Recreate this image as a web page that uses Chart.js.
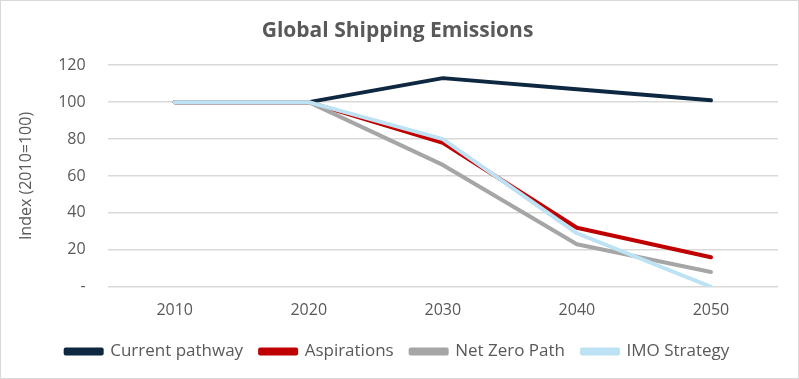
<!DOCTYPE html>
<html>
<head>
<meta charset="utf-8">
<script src="https://cdn.jsdelivr.net/npm/chart.js@4.4.1/dist/chart.umd.min.js"></script>
<style>
    html, body { margin: 0; padding: 0; background: #fff; }
    #wrap { width: 799px; height: 379px; box-sizing: border-box; border: 1px solid #d9d9d9; }
</style>
</head>
<body>
<div id="wrap"><canvas id="myChart" width="797" height="377"></canvas></div>
<script>
var years = ['2010', '2020', '2030', '2040', '2050'];
var currentPathway = [100, 100, 113, 107, 101];
var aspirations = [100, 100, 78, 32, 16];
var netZeroPath = [100, 100, 66, 23, 8];
var imoStrategy = [100, 100, 80, 29, 0];
var yTicks = [0, 20, 40, 60, 80, 100, 120];

var textColor = '#595959';
var fontFamily = "'Open Sans', sans-serif";

function line(label, data, color, order) {
    return {
        label: label,
        data: data,
        borderColor: color,
        backgroundColor: color,
        borderWidth: 4,
        borderCapStyle: 'round',
        borderJoinStyle: 'round',
        pointRadius: 0,
        tension: 0,
        order: order
    };
}

var ctx = document.getElementById('myChart').getContext('2d');
var myLineChart = new Chart(ctx, {
    type: 'line',
    data: {
        labels: years,
        datasets: [
            line('Current pathway', currentPathway, '#0e2841', 4),
            line('Aspirations', aspirations, '#c00000', 3),
            line('Net Zero Path', netZeroPath, '#a6a6a6', 2),
            line('IMO Strategy', imoStrategy, '#bde2f4', 1)
        ]
    },
    options: {
        responsive: false,
        animation: false,
        layout: { padding: { left: 16, right: 20, top: 4, bottom: 8 } },
        plugins: {
            title: {
                display: true,
                text: 'Global Shipping Emissions',
                color: textColor,
                font: { family: fontFamily, size: 21, weight: 'bold' },
                padding: { top: 13, bottom: 22 }
            },
            legend: {
                position: 'bottom',
                labels: {
                    color: textColor,
                    font: { family: fontFamily, size: 17 },
                    boxWidth: 36,
                    boxHeight: 4,
                    padding: 17,
                    sort: function (a, b) { return a.datasetIndex - b.datasetIndex; }
                }
            },
            tooltip: { enabled: false }
        },
        scales: {
            x: {
                offset: true,
                grid: { display: false },
                border: { display: false },
                ticks: { color: textColor, font: { family: fontFamily, size: 16 }, padding: 6 }
            },
            y: {
                min: 0,
                max: 120,
                afterBuildTicks: function (axis) {
                    axis.ticks = yTicks.map(function (v) { return { value: v }; });
                },
                grid: { color: '#d9d9d9', lineWidth: 1.5, drawTicks: false },
                border: { display: false },
                title: {
                    display: true,
                    text: 'Index (2010=100)',
                    color: textColor,
                    font: { family: fontFamily, size: 16 },
                    padding: { top: 0, bottom: 0 }
                },
                ticks: {
                    color: textColor,
                    font: { family: fontFamily, size: 16 },
                    padding: 22,
                    callback: function (v) { return v === 0 ? '-' : v; }
                }
            }
        }
    }
});
</script>
</body>
</html>
